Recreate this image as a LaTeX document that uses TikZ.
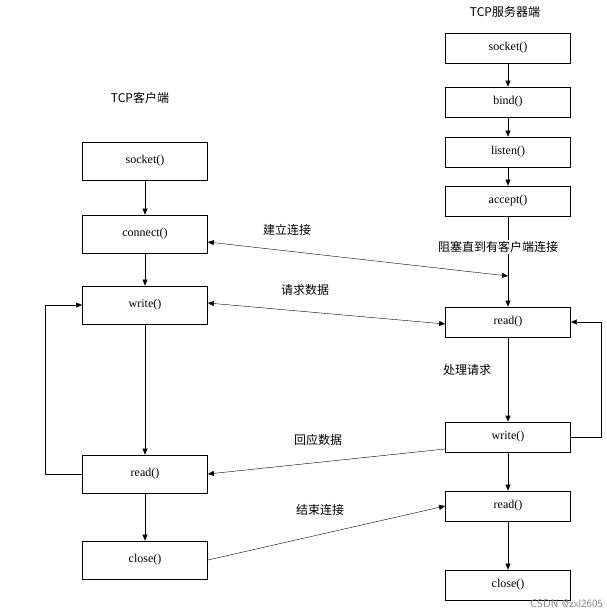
\documentclass[tikz,border=0pt]{standalone}
\usepackage{fontspec}
\setmainfont{Liberation Serif}
\newfontfamily\cjk{Noto Sans CJK SC}
\usetikzlibrary{arrows.meta}
\begin{document}
\begin{tikzpicture}[x=1pt,y=-1pt,
  box/.style={draw,thick,minimum width=125pt,inner sep=0pt,font=\fontsize{12}{14}\selectfont},
  cb/.style={box,minimum height=38pt},
  sb/.style={box,minimum height=30pt},
  lab/.style={font=\cjk\fontsize{12}{14}\selectfont},
  arr/.style={-{Triangle[length=6pt,width=5pt]},thin},
  darr/.style={{Triangle[length=6pt,width=5pt]}-{Triangle[length=6pt,width=5pt]},thin}]
\useasboundingbox (0,0) rectangle (607,610);
% client
\node[lab] (ct) at (140,98) {TCP客户端};
\node[cb] (c1) at (145,161) {socket()};
\node[cb] (c2) at (145,234) {connect()};
\node[cb] (c3) at (145,305) {write()};
\node[cb] (c4) at (145,474) {read()};
\node[cb] (c5) at (145,560) {close()};
\draw[arr] (c1) -- (c2);
\draw[arr] (c2) -- (c3);
\draw[arr] (c3) -- (c4);
\draw[arr] (c4) -- (c5);
\draw[arr] (c4.west) -- ++(-37,0) |- (c3.west);
% server
\node[lab] (st) at (505,12) {TCP服务器端};
\node[sb] (s1) at (508,48) {socket()};
\node[sb] (s2) at (508,102) {bind()};
\node[sb] (s3) at (508,152) {listen()};
\node[sb] (s4) at (508,201) {accept()};
\node[sb] (s5) at (508,322) {read()};
\node[sb] (s6) at (508,437) {write()};
\node[sb] (s7) at (508,506) {read()};
\node[sb] (s8) at (508,585) {close()};
\draw[arr] (s1) -- (s2);
\draw[arr] (s2) -- (s3);
\draw[arr] (s3) -- (s4);
\draw[arr] (s4) -- (s5);
\draw[arr] (s5) -- (s6);
\draw[arr] (s6) -- (s7);
\draw[arr] (s7) -- (s8);
\draw[arr] (s6.east) -- ++(30,0) |- (s5.east);
\node[lab,fill=white,inner sep=1pt] (wl) at (498,247) {阻塞直到有客户端连接};
\node[lab] (pl) at (467,370) {处理请求};
% cross connections
\coordinate (m) at (508,276);
\draw[darr] (c2.east) ++(0,8) coordinate (ce) -- (m);
\draw[darr] ([yshift=2pt]c3.east) -- ([yshift=-2pt]s5.west);
\draw[arr] ([yshift=-12pt]s6.west) -- (c4.east);
\draw[arr] (c5.east) -- (s7.west);
\node[lab] (l1) at (287,230) {建立连接};
\node[lab] (l2) at (305,290) {请求数据};
\node[lab] (l3) at (318,440) {回应数据};
\node[lab] (l4) at (320,510) {结束连接};
\node[font=\fontsize{11}{13}\selectfont\sffamily,text=gray,anchor=south east,inner sep=1pt] (wm) at (604,609) {CSDN @zxl2605};
\end{tikzpicture}
\end{document}
